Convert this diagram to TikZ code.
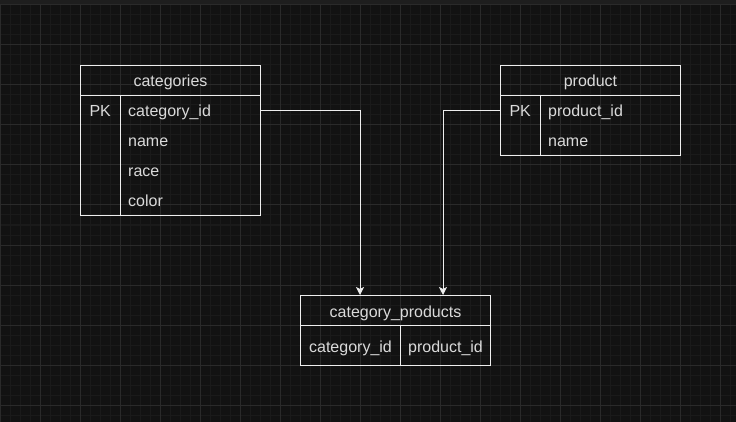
\documentclass[tikz,border=0pt]{standalone}
\usepackage{fontspec}
\setmainfont{Liberation Sans}
\usetikzlibrary{arrows.meta,calc}

\definecolor{canvas}{HTML}{121212}
\definecolor{topbar}{HTML}{1E1E1E}
\definecolor{gridminor}{HTML}{1A1A1A}
\definecolor{gridmajor}{HTML}{2A2A2A}
\definecolor{edge}{HTML}{EEEEEE}
\definecolor{label}{HTML}{DADADA}

\tikzset{
  tablebox/.style={draw=edge, line width=1pt, inner sep=0pt, anchor=north west},
  headcell/.style={tablebox, font=\fontsize{16}{18}\selectfont, text=label,
                   text height=13pt, text depth=0pt},
  keycell/.style={anchor=north west, inner sep=0pt, font=\fontsize{16}{18}\selectfont,
                  text=label, text height=13pt, text depth=0pt,
                  minimum width=40pt, minimum height=30pt},
  fieldcell/.style={anchor=north west, inner xsep=8pt, inner ysep=0pt,
                    font=\fontsize{16}{18}\selectfont, text=label,
                    text height=13pt, text depth=0pt, align=left,
                    text width=124pt, minimum height=30pt},
  linkcell/.style={tablebox, font=\fontsize{16}{18}\selectfont, text=label,
                   text height=13pt, text depth=0pt, minimum height=40pt},
  relation/.style={draw=edge, line width=1pt,
                   -{Stealth[length=8pt, width=8pt, inset=2pt]}}
}

\begin{document}
\begin{tikzpicture}[x=1pt, y=-1pt]
  % canvas and grid
  \fill[canvas] (0,0) rectangle (736,422);
  \useasboundingbox (0,0) rectangle (736,422);
  \foreach \x in {0,10,...,730} \draw[gridminor, line width=1pt] (\x,5) -- (\x,422);
  \foreach \y in {5,15,...,415} \draw[gridminor, line width=1pt] (0,\y) -- (736,\y);
  \foreach \x in {0,40,...,720} \draw[gridmajor, line width=1pt] (\x,5) -- (\x,422);
  \foreach \y in {5,45,...,405} \draw[gridmajor, line width=1pt] (0,\y) -- (736,\y);
  \fill[topbar] (0,0) rectangle (736,4);
  \draw[gridmajor, line width=1pt] (0,4.5) -- (736,4.5);

  % categories table
  \node[headcell, minimum width=180pt, minimum height=30pt] (cathead) at (80,65) {categories};
  \node[tablebox, minimum width=180pt, minimum height=120pt] (catbody) at (80,95) {};
  \draw[edge, line width=1pt] ($(catbody.north west)+(40,0)$) -- ($(catbody.south west)+(40,0)$);
  \node[keycell] (catpk) at (80,95) {PK};
  \node[fieldcell] (catid) at (120,95) {category\_id};
  \node[fieldcell] (catname) at (120,125) {name};
  \node[fieldcell] (catrace) at (120,155) {race};
  \node[fieldcell] (catcolor) at (120,185) {color};

  % product table
  \node[headcell, minimum width=180pt, minimum height=30pt] (prodhead) at (500,65) {product};
  \node[tablebox, minimum width=180pt, minimum height=60pt] (prodbody) at (500,95) {};
  \draw[edge, line width=1pt] ($(prodbody.north west)+(40,0)$) -- ($(prodbody.south west)+(40,0)$);
  \node[keycell] (prodpk) at (500,95) {PK};
  \node[fieldcell] (prodid) at (540,95) {product\_id};
  \node[fieldcell] (prodname) at (540,125) {name};

  % category_products link table
  \node[headcell, minimum width=190pt, minimum height=30pt] (cphead) at (300,295) {category\_products};
  \node[linkcell, minimum width=100pt] (cpcat) at (300,325) {category\_id};
  \node[linkcell, minimum width=90pt] (cpprod) at (400,325) {product\_id};

  % relations
  \coordinate (catin) at ($(cphead.north west)+(60,0)$);
  \coordinate (prodin) at ($(cphead.north west)+(143,0)$);
  \draw[relation] (catid.east) -| (catin);
  \draw[relation] (prodbody.west |- prodid) -| (prodin);
\end{tikzpicture}
\end{document}
